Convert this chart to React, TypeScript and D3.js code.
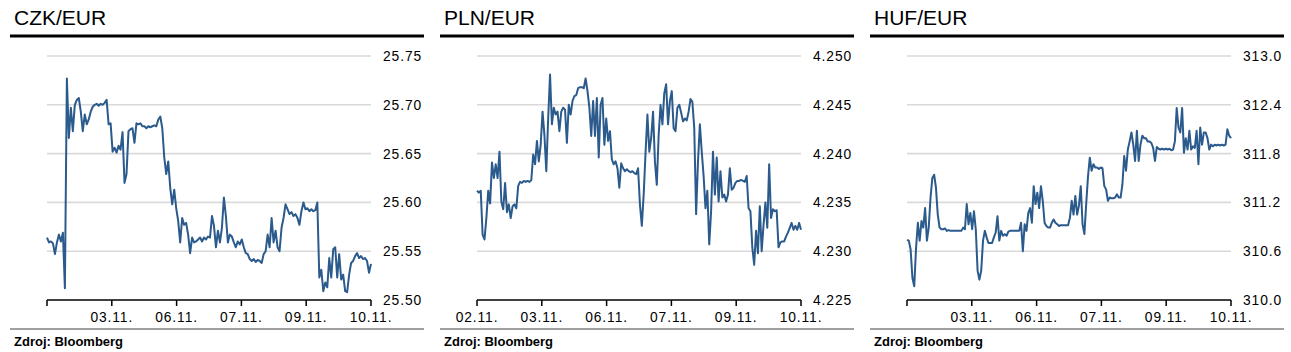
import React from "react";
import * as d3 from "d3";

// intraday fixings, sampled evenly left to right
const czkValues = [
  25.564, 25.559, 25.56, 25.558, 25.547, 25.559, 25.567, 25.56, 25.569, 25.512,
  25.727, 25.666, 25.697, 25.673, 25.7, 25.705, 25.707, 25.693, 25.673, 25.69,
  25.68, 25.685, 25.693, 25.698, 25.7, 25.701, 25.699, 25.701, 25.7, 25.702,
  25.705, 25.68, 25.681, 25.652, 25.656, 25.651, 25.658, 25.654, 25.672, 25.62,
  25.629, 25.673, 25.675, 25.676, 25.661, 25.681, 25.68, 25.681, 25.678, 25.678,
  25.676, 25.678, 25.677, 25.678, 25.679, 25.678, 25.685, 25.688, 25.676, 25.646,
  25.629, 25.642, 25.615, 25.598, 25.613, 25.594, 25.581, 25.559, 25.584, 25.577,
  25.579, 25.567, 25.548, 25.564, 25.559, 25.56, 25.562, 25.564, 25.56, 25.564,
  25.562, 25.565, 25.564, 25.586, 25.576, 25.554, 25.571, 25.559, 25.574, 25.605,
  25.586, 25.559, 25.567, 25.565, 25.559, 25.554, 25.56, 25.557, 25.562, 25.554,
  25.548, 25.547, 25.542, 25.54, 25.542, 25.539, 25.541, 25.54, 25.538, 25.547,
  25.55, 25.567, 25.554, 25.584, 25.559, 25.571, 25.554, 25.55, 25.574, 25.584,
  25.598, 25.593, 25.588, 25.59, 25.586, 25.588, 25.584, 25.577, 25.591, 25.6,
  25.593, 25.594, 25.591, 25.593, 25.591, 25.592, 25.6, 25.523, 25.531, 25.509,
  25.518, 25.513, 25.543, 25.523, 25.552, 25.554, 25.523, 25.547, 25.521, 25.526,
  25.509, 25.508, 25.526, 25.538, 25.54, 25.545, 25.548, 25.543, 25.545, 25.542,
  25.543, 25.54, 25.528, 25.537,
];

const plnValues = [
  4.2362, 4.236, 4.2362, 4.2317, 4.2312, 4.2334, 4.2362, 4.2349, 4.2391, 4.2375,
  4.2389, 4.2375, 4.2402, 4.2351, 4.2343, 4.237, 4.234, 4.2348, 4.2334, 4.2346,
  4.2348, 4.2344, 4.2367, 4.2371, 4.237, 4.2372, 4.2371, 4.2372, 4.2371, 4.2373,
  4.2399, 4.2389, 4.2413, 4.2392, 4.2409, 4.2443, 4.2419, 4.2382, 4.2436, 4.2481,
  4.243, 4.2447, 4.244, 4.2443, 4.2423, 4.2443, 4.2447, 4.2445, 4.2411, 4.245,
  4.244, 4.2454, 4.2459, 4.246, 4.2467, 4.2468, 4.2468, 4.2467, 4.2477, 4.2464,
  4.2447, 4.2418, 4.2454, 4.2418, 4.2457, 4.2396, 4.245, 4.2457, 4.2409, 4.2436,
  4.2413, 4.2423, 4.2394, 4.2389, 4.2392, 4.2385, 4.2365, 4.239, 4.2385, 4.2382,
  4.2384, 4.2382, 4.2381, 4.2382, 4.238, 4.2379, 4.2385, 4.2348, 4.2326, 4.2358,
  4.2401, 4.244, 4.2402, 4.2416, 4.2443, 4.2392, 4.2368, 4.2419, 4.245, 4.243,
  4.2462, 4.2471, 4.243, 4.2454, 4.2464, 4.2426, 4.2423, 4.2447, 4.245, 4.2442,
  4.2433, 4.2436, 4.2434, 4.2443, 4.2456, 4.2453, 4.2426, 4.2338, 4.2392, 4.243,
  4.2402, 4.2377, 4.2344, 4.2362, 4.2307, 4.2341, 4.2402, 4.2358, 4.2396, 4.2351,
  4.2382, 4.2355, 4.2358, 4.2351, 4.2358, 4.2385, 4.2363, 4.2365, 4.237, 4.2372,
  4.2372, 4.2373, 4.2372, 4.2371, 4.2377, 4.2344, 4.2341, 4.2304, 4.2286, 4.2321,
  4.2298, 4.2346, 4.23, 4.2327, 4.235, 4.2324, 4.2389, 4.2334, 4.2343, 4.2341,
  4.2342, 4.2304, 4.2309, 4.231, 4.231, 4.2315, 4.2319, 4.2324, 4.2329, 4.2322,
  4.2326, 4.2322, 4.2329, 4.2322,
];

const hufValues = [
  310.74, 310.73, 310.62, 310.27, 310.17, 310.64, 310.95, 310.73, 310.97, 310.89,
  311.13, 310.73, 310.89, 311.26, 311.5, 311.54, 311.38, 311.05, 310.89, 310.87,
  310.87, 310.88, 310.85, 310.86, 310.85, 310.85, 310.85, 310.85, 310.85, 310.85,
  310.85, 310.89, 310.87, 311.18, 310.93, 311.07, 310.87, 311.09, 310.87, 310.36,
  310.25, 310.36, 310.73, 310.85, 310.77, 310.7, 310.7, 310.7, 310.77, 310.83,
  311.03, 310.73, 310.85, 310.79, 310.81, 310.79, 310.84, 310.85, 310.85, 310.85,
  310.85, 310.85, 310.85, 310.95, 310.6, 310.93, 310.85, 311.07, 311.13, 310.95,
  311.4, 311.18, 311.32, 311.13, 311.4, 311.22, 310.95, 310.91, 310.89, 310.89,
  310.95, 310.99, 310.95, 310.93, 310.91, 310.92, 310.92, 310.92, 310.92, 310.92,
  311.01, 311.22, 311.05, 311.28, 311.05, 311.16, 311.4, 310.93, 310.81, 311.18,
  311.52, 311.75, 311.59, 311.67, 311.63, 311.63, 311.61, 311.63, 311.62, 311.4,
  311.36, 311.22, 311.26, 311.25, 311.25, 311.26, 311.3, 311.26, 311.26, 311.42,
  311.77, 311.59, 311.85, 311.95, 312.06, 311.91, 311.71, 312.08, 311.71, 311.91,
  312.02, 311.99, 311.99, 311.95, 311.95, 311.93, 311.87, 311.71, 311.88, 311.86,
  311.85, 311.86, 311.85, 311.86, 311.85, 311.86, 311.84, 311.85, 311.95, 312.36,
  312.12, 312.06, 312.36, 311.81, 311.99, 311.85, 312.08, 311.85, 311.89, 311.87,
  312.08, 311.67, 312.12, 311.91, 312.06, 312.06, 311.99, 311.85, 311.91, 311.89,
  311.91, 311.9, 311.91, 311.9, 311.91, 311.9, 311.91, 312.1, 312.02, 311.99,
];

const czkTicks = [25.5, 25.55, 25.6, 25.65, 25.7, 25.75];
const plnTicks = [4.225, 4.23, 4.235, 4.24, 4.245, 4.25];
const hufTicks = [310.0, 310.6, 311.2, 311.8, 312.4, 313.0];

const czkDates = ["", "03.11.", "06.11.", "07.11.", "09.11.", "10.11."];
const plnDates = ["02.11.", "03.11.", "06.11.", "07.11.", "09.11.", "10.11."];
const hufDates = ["", "03.11.", "06.11.", "07.11.", "09.11.", "10.11."];

const LINE = "#2b5a8c";
const FONT = "'Liberation Sans', Arial, sans-serif";

type PanelProps = {
  x0: number;
  title: string;
  values: number[];
  ticks: number[];
  digits: number;
  dates: string[];
};

function Panel({ x0, title, values, ticks, digits, dates }: PanelProps) {
  const left = x0 + 47;
  const right = x0 + 371;
  const top = 56;
  const bottom = 300;

  const x = d3.scaleLinear().domain([0, values.length - 1]).range([left, right]);
  const y = d3
    .scaleLinear()
    .domain([ticks[0], ticks[ticks.length - 1]])
    .range([bottom, top]);
  const xt = d3.scaleLinear().domain([0, dates.length - 1]).range([left, right]);

  const line = d3
    .line<number>()
    .x((d, i) => x(i))
    .y(d => y(d));

  return (
    <g>
      <text x={x0 + 14} y={25} fontSize={21} fontFamily={FONT} fill="#000">
        {title}
      </text>
      <line x1={x0 + 10} x2={x0 + 424} y1={36} y2={36} stroke="#000" strokeWidth={3} />

      {ticks.slice(1).map(t => (
        <line key={t} x1={left} x2={right} y1={y(t)} y2={y(t)} stroke="#d9d9d9" strokeWidth={1.6} />
      ))}
      {ticks.map(t => (
        <text
          key={"l" + t}
          x={x0 + 383}
          y={y(t)}
          dy="0.36em"
          fontSize={13.8}
          letterSpacing={0.9}
          fontFamily={FONT}
          fill="#000"
        >
          {t.toFixed(digits)}
        </text>
      ))}

      <path d={line(values) || ""} fill="none" stroke={LINE} strokeWidth={2} strokeLinejoin="round" />

      <line x1={left} x2={right} y1={bottom} y2={bottom} stroke="#000" strokeWidth={1.7} />
      {dates.map((d, i) => (
        <g key={"t" + i}>
          <line x1={xt(i)} x2={xt(i)} y1={bottom} y2={bottom + 6} stroke="#000" strokeWidth={1.5} />
          <text
            x={xt(i)}
            y={322}
            textAnchor="middle"
            fontSize={13.8}
            letterSpacing={0.9}
            fontFamily={FONT}
            fill="#000"
          >
            {d}
          </text>
        </g>
      ))}

      <line x1={x0 + 10} x2={x0 + 424} y1={329} y2={329} stroke="#808080" strokeWidth={1.7} />
      <text x={x0 + 14} y={346} fontSize={13} fontWeight="bold" fontFamily={FONT} fill="#000">
        Zdroj: Bloomberg
      </text>
    </g>
  );
}

export default function App() {
  return (
    <svg
      width={1291}
      height={352}
      style={{ position: "absolute", left: 0, top: 0, background: "#fff" }}
    >
      <Panel x0={0} title="CZK/EUR" values={czkValues} ticks={czkTicks} digits={2} dates={czkDates} />
      <Panel x0={430} title="PLN/EUR" values={plnValues} ticks={plnTicks} digits={3} dates={plnDates} />
      <Panel x0={860} title="HUF/EUR" values={hufValues} ticks={hufTicks} digits={1} dates={hufDates} />
    </svg>
  );
}
